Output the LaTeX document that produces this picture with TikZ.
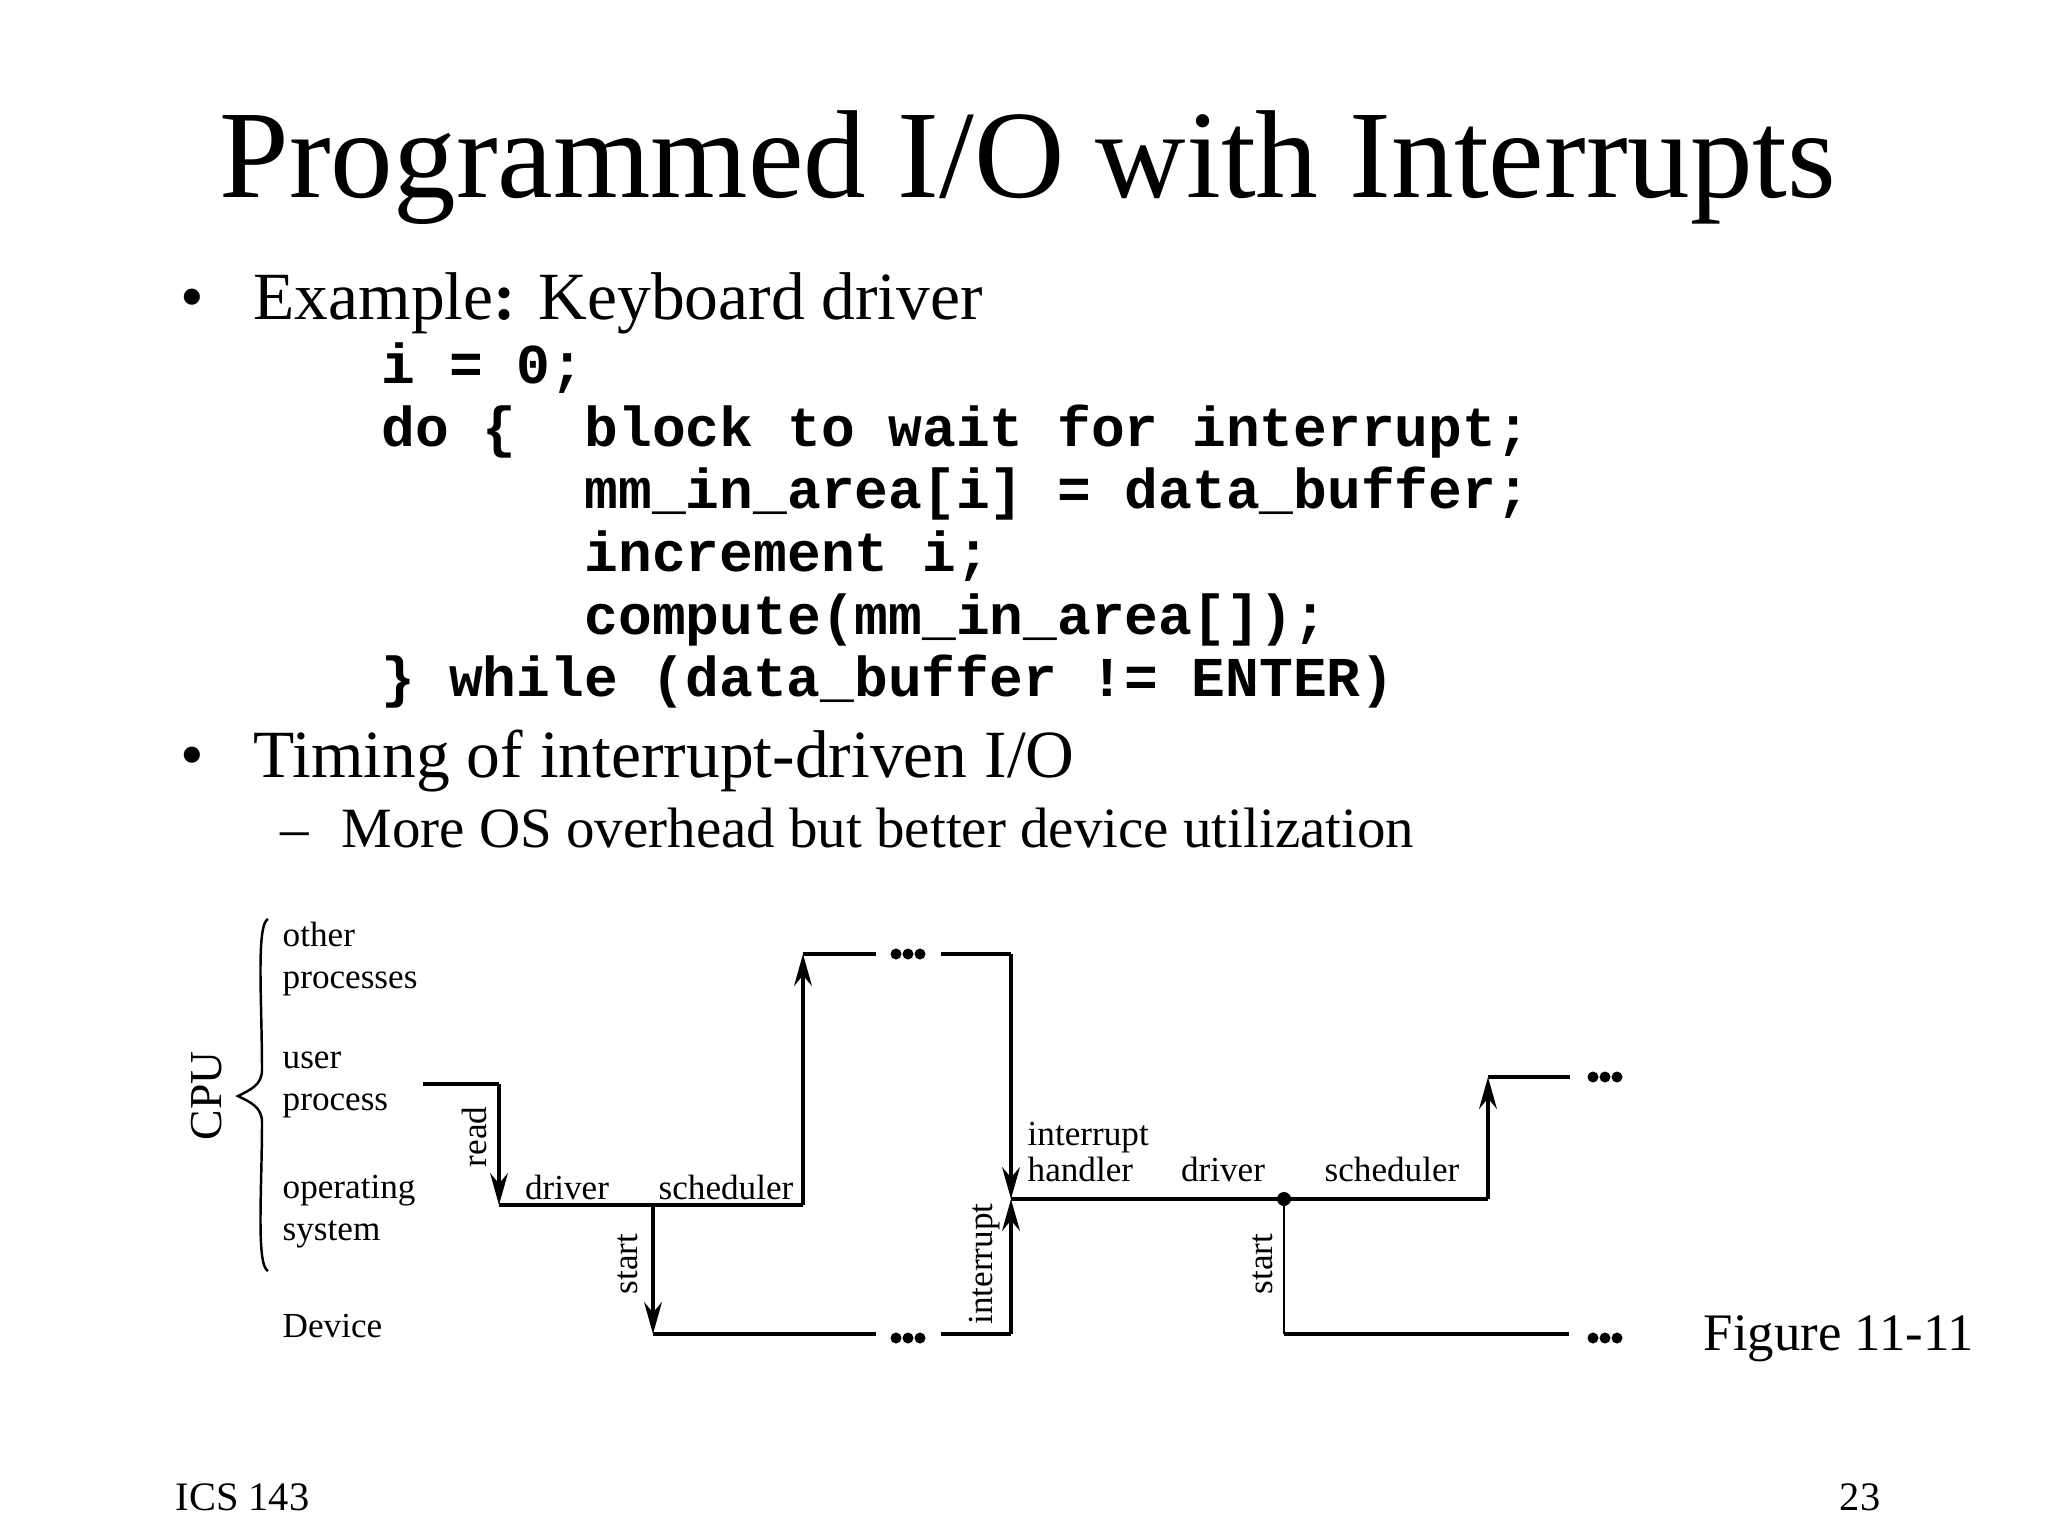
\documentclass[tikz,border=0pt]{standalone}
\usepackage{fontspec}
\setmainfont{Liberation Serif}
\setmonofont{Liberation Mono}
\usetikzlibrary{arrows.meta,decorations.pathreplacing}
\begin{document}
\begin{tikzpicture}[x=0.01cm,y=-0.01cm,
  thk/.style={line width=1.3pt},
  thn/.style={line width=0.7pt},
  arr/.style={-{Stealth[length=9pt,width=5pt]}},
  lbl/.style={font=\fontsize{10}{12}\selectfont,inner sep=0pt},
  code/.style={font=\fontsize{16}{18}\selectfont\ttfamily\bfseries,anchor=base west,inner sep=0pt},
  txt/.style={font=\fontsize{19.2}{22}\selectfont,anchor=base west,inner sep=0pt},
  dots/.style={fill=black}]
\useasboundingbox (0,0) rectangle (2048,1536);
% title and text
\node[font=\fontsize{35.6}{40}\selectfont,anchor=base,inner sep=0pt] (title) at (1028,197) {Programmed I/O with Interrupts};
\node[txt] (b1) at (180,319) {•};
\node[txt] (t1) at (253,319) {Example\textbf{:} Keyboard driver};
\node[code] (c1) at (381,383) {i = 0;};
\node[code] (c2) at (381,446) {do \{};
\node[code] (c2b) at (584,446) {block to wait for interrupt;};
\node[code] (c3) at (584,508) {mm\_in\_area[i] = data\_buffer;};
\node[code] (c4) at (584,571) {increment i;};
\node[code] (c5) at (584,634) {compute(mm\_in\_area[]);};
\node[code] (c6) at (381,696) {\} while (data\_buffer != ENTER)};
\node[txt] (b2) at (180,777) {•};
\node[txt] (t2) at (253,777) {Timing of interrupt-driven I/O};
\node[txt,font=\fontsize{16.2}{20}\selectfont] (d3) at (280,847) {–};
\node[txt,font=\fontsize{16.2}{20}\selectfont] (t3) at (341,847) {More OS overhead but better device utilization};
\node[font=\fontsize{15}{20}\selectfont,anchor=base west,inner sep=0pt] (fig) at (1703,1350) {Figure 11-11};
\node[font=\fontsize{11.5}{14}\selectfont,anchor=base west,inner sep=0pt] (ics) at (175,1510) {ICS 143};
\node[font=\fontsize{11.5}{14}\selectfont,anchor=base east,inner sep=0pt] (pg) at (1881,1510) {23};
% left labels
\node[lbl,anchor=west,align=left] (op) at (282,959) {other\\processes};
\node[lbl,anchor=west,align=left] (up) at (282,1085) {user\\process};
\node[lbl,anchor=west,align=left] (os) at (282,1212) {operating\\system};
\node[lbl,anchor=west] (dev) at (282,1326) {Device};
\draw[thn] (268,919) .. controls (256,925) and (262,1000) .. (262,1070)
  .. controls (262,1085) and (250,1090) .. (238,1096)
  .. controls (250,1102) and (262,1107) .. (262,1122)
  .. controls (262,1190) and (256,1265) .. (268,1271);
\node[lbl,font=\fontsize{13}{14}\selectfont,rotate=90] (cpu) at (207,1096) {CPU};
% coordinates
\coordinate (u0) at (423,1084);
\coordinate (u1) at (499,1084);
\coordinate (o1) at (499,1205);
\coordinate (s1) at (653,1205);
\coordinate (s1d) at (653,1334);
\coordinate (o2) at (803,1205);
\coordinate (h0) at (803,954);
\coordinate (h1) at (876,954);
\coordinate (h2) at (941,954);
\coordinate (h3) at (1011,954);
\coordinate (i0) at (1011,1199);
\coordinate (dv1) at (876,1334);
\coordinate (dv2) at (941,1334);
\coordinate (dv3) at (1011,1334);
\coordinate (sd) at (1284,1199);
\coordinate (sd2) at (1284,1334);
\coordinate (dv4) at (1569,1334);
\coordinate (o3) at (1488,1199);
\coordinate (t0) at (1488,1077);
\coordinate (t1e) at (1570,1077);
% lines
\draw[thk] (u0) -- (u1);
\draw[thk,arr] (u1) -- (o1);
\draw[thk] (o1) -- (o2);
\draw[thk,arr] (s1) -- (s1d);
\draw[thk,arr] (o2) -- (h0);
\draw[thk] (h0) -- (h1);
\draw[thk] (h2) -- (h3);
\draw[thk,arr] (h3) -- (i0);
\draw[thk] (s1d) -- (dv1);
\draw[thk] (dv2) -- (dv3);
\draw[thk,arr] (dv3) -- (i0);
\draw[thk] (i0) -- (o3);
\fill (sd) circle (7);
\draw[thn] (sd) -- (sd2);
\draw[thk] (sd2) -- (dv4);
\draw[thk,arr] (o3) -- (t0);
\draw[thk] (t0) -- (t1e);
\foreach \cx/\cy in {908/954, 908/1338, 1605/1077, 1605/1338}
  \foreach \k in {-12,0,12} \fill (\cx+\k,\cy) circle (5.5);
% diagram labels
\node[lbl,rotate=90] (read) at (474,1137) {read};
\node[lbl,anchor=base] (drv1) at (567,1199) {driver};
\node[lbl,anchor=base] (sch1) at (726,1199) {scheduler};
\node[lbl,rotate=90] (st1) at (628,1264) {start};
\node[lbl,rotate=90] (int1) at (985,1264) {interrupt};
\node[lbl,anchor=base west,align=left] (ih1) at (1027,1145) {interrupt};
\node[lbl,anchor=base west] (ih2) at (1027,1181) {handler};
\node[lbl,anchor=base] (drv2) at (1223,1181) {driver};
\node[lbl,anchor=base] (sch2) at (1392,1181) {scheduler};
\node[lbl,rotate=90] (st2) at (1263,1264) {start};
\end{tikzpicture}
\end{document}
